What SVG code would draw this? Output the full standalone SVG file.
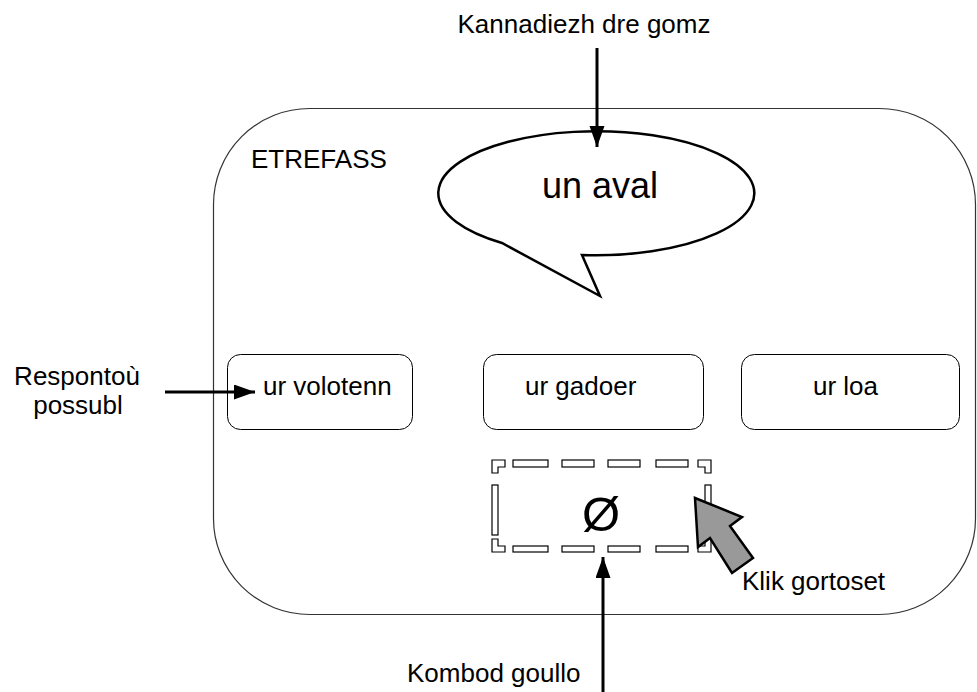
<svg xmlns="http://www.w3.org/2000/svg" width="977" height="692" viewBox="0 0 977 692">
<style>
text{font-family:"Liberation Sans",Arial,sans-serif;fill:#000}
.lbl{font-size:26px}
.box{fill:#fff;stroke:#000;stroke-width:1}
.dash{fill:#fff;stroke:#000;stroke-width:1.2}
.conn{stroke:#000;stroke-width:3;fill:none}
</style>
<defs>
<marker id="ah" markerUnits="userSpaceOnUse" markerWidth="22" markerHeight="16" refX="21" refY="7.5" orient="auto" viewBox="0 0 22 16">
<path d="M0,0 L21,7.5 L0,15 Z" fill="#000"/>
</marker>
</defs>
<rect width="977" height="692" fill="#fff"/>
<g id="etrefass">
<rect x="213.5" y="108.5" width="762" height="506" rx="96" ry="96" fill="#fff" stroke="#333" stroke-width="1.2"/>
<text class="lbl" x="251" y="168">ETREFASS</text>
</g>
<g id="bubble">
<path d="M582,255 A158,62 0 1 0 502,243 L600,296 Z" fill="#fff" stroke="#000" stroke-width="2.5" stroke-linejoin="miter"/>
<text x="600" y="198" font-size="36" text-anchor="middle">un aval</text>
</g>
<g id="ans1">
<rect class="box" x="227.5" y="354.5" width="185" height="75" rx="13"/>
<text class="lbl" x="263" y="395">ur volotenn</text>
</g>
<g id="ans2">
<rect class="box" x="483.5" y="354.5" width="220" height="75" rx="13"/>
<text class="lbl" x="525" y="395">ur gadoer</text>
</g>
<g id="ans3">
<rect class="box" x="741.5" y="354.5" width="218" height="75" rx="13"/>
<text class="lbl" x="813" y="395">ur loa</text>
</g>
<g id="empty">
<polygon class="dash" points="492,460 505,460 505,467 498,467 498,473 492,473"/>
<rect class="dash" x="513" y="460" width="35" height="7"/>
<rect class="dash" x="562" y="460" width="32" height="7"/>
<rect class="dash" x="608" y="460" width="32" height="7"/>
<rect class="dash" x="656" y="460" width="32" height="7"/>
<polygon class="dash" points="698,460 711,460 711,473 705,473 705,467 698,467"/>
<rect class="dash" x="492" y="485" width="6" height="50"/>
<rect class="dash" x="705" y="485" width="6" height="50"/>
<polygon class="dash" points="492,539 498,539 498,546 505,546 505,552 492,552"/>
<rect class="dash" x="513" y="546" width="35" height="6"/>
<rect class="dash" x="562" y="546" width="32" height="6"/>
<rect class="dash" x="608" y="546" width="32" height="6"/>
<rect class="dash" x="656" y="546" width="32" height="6"/>
<polygon class="dash" points="698,546 705,546 705,539 711,539 711,552 698,552"/>
<text x="601" y="531" font-size="49" text-anchor="middle">Ø</text>
</g>
<g id="cursor">
<polygon points="695,498 742,517 730,526 753,558 732,573 710,538 698,547" fill="#999" stroke="#000" stroke-width="2.5" stroke-linejoin="miter"/>
</g>
<g id="labels">
<text class="lbl" x="584" y="33" text-anchor="middle">Kannadiezh dre gomz</text>
<text class="lbl" x="77" y="385" text-anchor="middle">Respontoù</text>
<text class="lbl" x="78" y="414" text-anchor="middle">possubl</text>
<text class="lbl" x="407" y="682">Kombod goullo</text>
<text class="lbl" x="742" y="590">Klik gortoset</text>
</g>
<g id="connectors">
<line class="conn" x1="597" y1="48" x2="597" y2="147" marker-end="url(#ah)"/>
<line class="conn" x1="165" y1="392" x2="255" y2="392" marker-end="url(#ah)"/>
<line class="conn" x1="603" y1="692" x2="603" y2="557" marker-end="url(#ah)"/>
</g>
</svg>
